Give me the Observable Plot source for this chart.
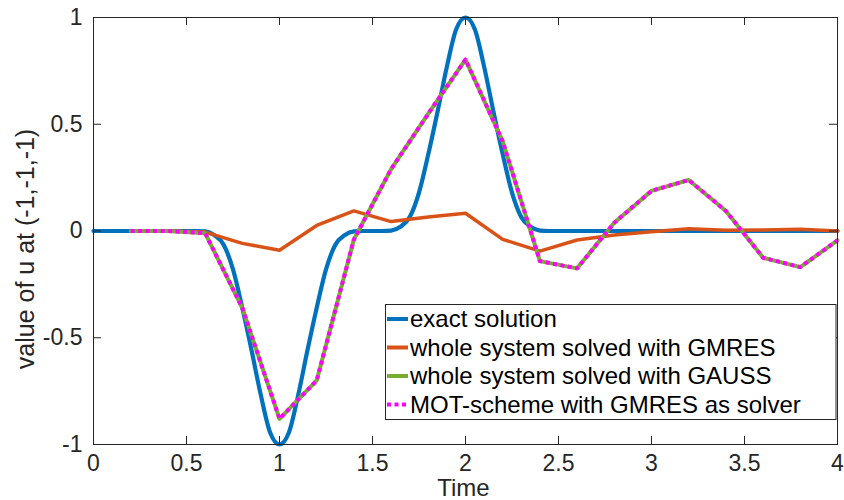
<!DOCTYPE html>
<html>
<head>
<meta charset="utf-8">
<script src="https://cdn.jsdelivr.net/npm/d3@7"></script>
<script src="https://cdn.jsdelivr.net/npm/@observablehq/plot@0.6"></script>
<style>
  html, body { margin: 0; padding: 0; background: #ffffff; }
  #chart svg { display: block; }
</style>
</head>
<body>
<div id="chart"></div>
<script>
// ---------- data ----------
const exactTime = [0, 0.55, 0.6, 0.65, 0.7, 0.75, 0.8, 0.85, 0.9, 0.95, 1.0, 1.05, 1.1, 1.15, 1.2, 1.25, 1.3, 1.35, 1.4, 1.45,
                   1.55, 1.6, 1.65, 1.7, 1.75, 1.8, 1.85, 1.9, 1.95, 2.0, 2.05, 2.1, 2.15, 2.2, 2.25, 2.3, 2.35, 2.4, 2.45, 4.0];
const exactValue = [0, 0, -0.002, -0.02, -0.065, -0.18, -0.36, -0.56, -0.77, -0.945, -1, -0.945, -0.77, -0.56, -0.36, -0.18, -0.065, -0.02, -0.002, 0,
                    0, 0.002, 0.02, 0.065, 0.18, 0.36, 0.56, 0.77, 0.945, 1, 0.945, 0.77, 0.56, 0.36, 0.18, 0.065, 0.02, 0.002, 0, 0];

const stepTime   = [0.2, 0.4, 0.6, 0.8, 1.0, 1.2, 1.4, 1.6, 1.8, 2.0, 2.2, 2.4, 2.6, 2.8, 3.0, 3.2, 3.4, 3.6, 3.8, 4.0];
const gmresValue = [0, 0, -0.005, -0.058, -0.09, 0.026, 0.094, 0.044, 0.066, 0.083, -0.039, -0.094, -0.042, -0.019, -0.003, 0.011, 0.003, 0.005, 0.008, 0.0];
const gaussValue = [0, 0, -0.01, -0.36, -0.88, -0.70, -0.04, 0.29, 0.55, 0.803, 0.42, -0.141, -0.175, 0.039, 0.188, 0.239, 0.094, -0.125, -0.169, -0.044];
const motValue   = [0, 0, -0.01, -0.36, -0.88, -0.70, -0.04, 0.29, 0.55, 0.803, 0.42, -0.141, -0.175, 0.039, 0.188, 0.239, 0.094, -0.125, -0.169, -0.044];

const xTicks = [0, 0.5, 1, 1.5, 2, 2.5, 3, 3.5, 4];
const xTickLabels = ["0", "0.5", "1", "1.5", "2", "2.5", "3", "3.5", "4"];
const yTicks = [-1, -0.5, 0, 0.5, 1];
const yTickLabels = ["-1", "-0.5", "0", "0.5", "1"];

const seriesNames = ["exact solution", "whole system solved with GMRES", "whole system solved with GAUSS", "MOT-scheme with GMRES as solver"];
const seriesColors = ["#0072BD", "#D95319", "#77AC30", "#FF00FF"];

const xLabel = "Time";
const yLabel = "value of u at (-1,-1,-1)";

// ---------- build ----------
const W = 844, H = 500, mL = 93, mR = 7, mT = 17, mB = 56;
const innerW = W - mL - mR, innerH = H - mT - mB;
const ink = "#262626";
const font = "'Liberation Sans', Arial, Helvetica, sans-serif";
const dash = "4,3.5";

const exact = exactTime.map((t, i) => ({t, v: exactValue[i]}));
const gmres = stepTime.map((t, i) => ({t, v: gmresValue[i]}));
const gauss = stepTime.map((t, i) => ({t, v: gaussValue[i]}));
const mot   = stepTime.map((t, i) => ({t, v: motValue[i]}));

const plot = Plot.plot({
  width: W, height: H,
  marginLeft: mL, marginRight: mR, marginTop: mT, marginBottom: mB,
  style: {fontFamily: font, fontSize: "23px", color: ink, background: "#ffffff", overflow: "visible"},
  x: {domain: [0, 4], label: null},
  y: {domain: [-1, 1], label: null},
  marks: [
    Plot.axisX({ticks: xTicks, tickFormat: d => xTickLabels[xTicks.indexOf(d)], tickSize: 0, tickPadding: 10, label: null, fontSize: 23, fill: ink}),
    Plot.axisY({ticks: yTicks, tickFormat: d => yTickLabels[yTicks.indexOf(d)], tickSize: 0, tickPadding: 11, label: null, fontSize: 23, fill: ink}),
    Plot.line(exact, {x: "t", y: "v", stroke: seriesColors[0], strokeWidth: 4.2, curve: "monotone-x"}),
    Plot.line(gmres, {x: "t", y: "v", stroke: seriesColors[1], strokeWidth: 3.5}),
    Plot.line(gauss, {x: "t", y: "v", stroke: seriesColors[2], strokeWidth: 4}),
    Plot.line(mot,   {x: "t", y: "v", stroke: seriesColors[3], strokeWidth: 4, strokeDasharray: dash, strokeLinecap: "butt"}),
    Plot.tickX(xTicks, {x: d => d, insetTop: innerH - 8, stroke: ink}),
    Plot.tickX(xTicks, {x: d => d, insetBottom: innerH - 8, stroke: ink}),
    Plot.tickY(yTicks, {y: d => d, insetRight: innerW - 8, stroke: ink}),
    Plot.tickY(yTicks, {y: d => d, insetLeft: innerW - 8, stroke: ink}),
    Plot.frame({stroke: ink, strokeWidth: 1})
  ]
});

document.getElementById("chart").appendChild(plot);

// ---------- axis titles and legend ----------
const svg = d3.select(plot);

svg.append("text")
  .attr("x", 463.5).attr("y", 496)
  .attr("text-anchor", "middle")
  .attr("font-family", font).attr("font-size", 24).attr("fill", ink)
  .text(xLabel);

svg.append("text")
  .attr("transform", "translate(34,249) rotate(-90)")
  .attr("text-anchor", "middle")
  .attr("font-family", font).attr("font-size", 25).attr("fill", ink)
  .text(yLabel);

const lg = svg.append("g");
lg.append("rect")
  .attr("x", 385.5).attr("y", 304.5).attr("width", 450.5).attr("height", 115)
  .attr("fill", "#ffffff").attr("stroke", ink).attr("stroke-width", 1);

const rowY = [319, 347.5, 376, 404.5];
seriesNames.forEach((name, i) => {
  lg.append("line")
    .attr("x1", 387).attr("x2", 408).attr("y1", rowY[i]).attr("y2", rowY[i])
    .attr("stroke", seriesColors[i]).attr("stroke-width", 4)
    .attr("stroke-dasharray", i === 3 ? dash : null);
  lg.append("text")
    .attr("x", 410).attr("y", rowY[i] + 8.4)
    .attr("text-anchor", "start")
    .attr("font-family", font).attr("font-size", 24).attr("fill", "#000")
    .text(name);
});
</script>
</body>
</html>
